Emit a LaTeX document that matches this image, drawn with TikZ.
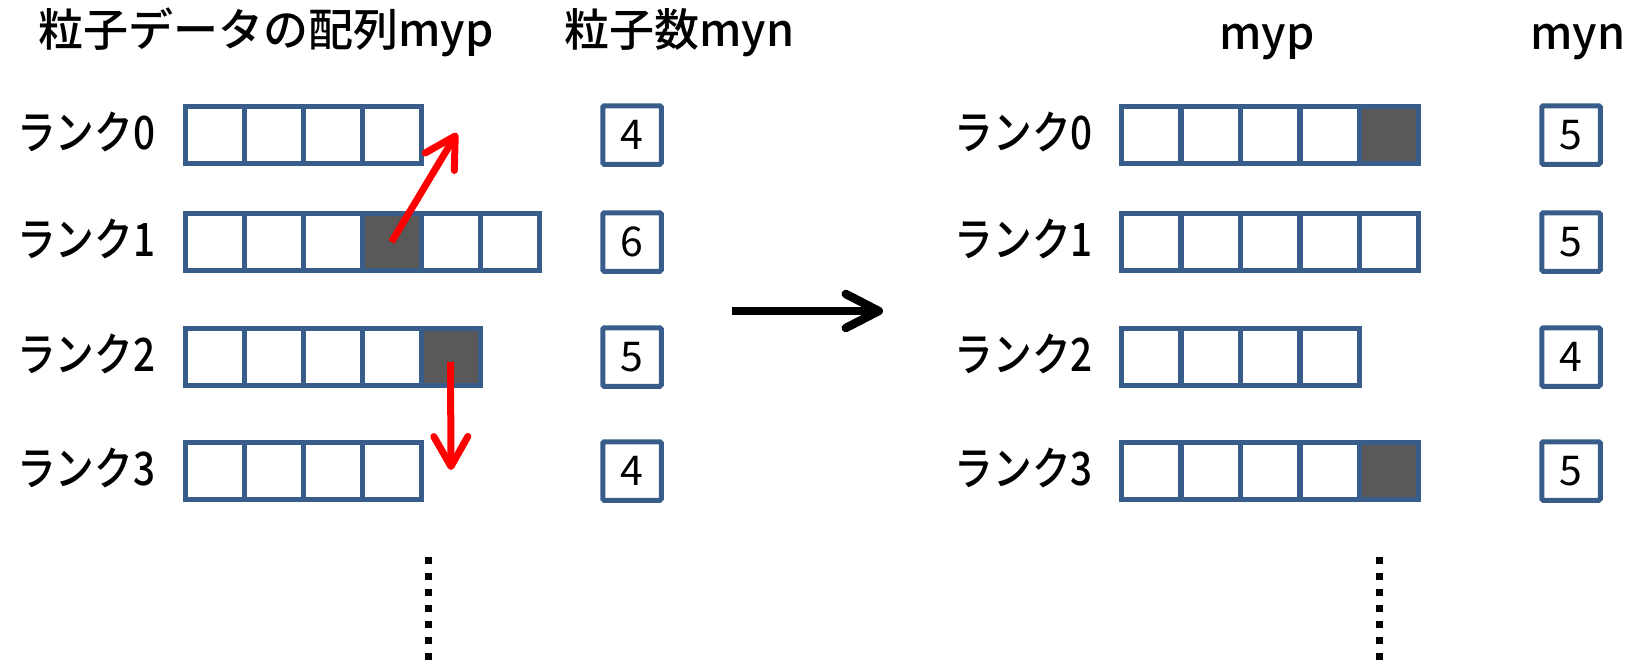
\documentclass[tikz,border=0pt]{standalone}
\usepackage{fontspec}
\setmainfont{Noto Sans CJK JP}
\newfontfamily\headfont[UprightFont={* Medium}]{Noto Sans CJK JP}
\newfontfamily\rankfont[UprightFont={* Medium}, FakeStretch=0.84]{Noto Sans CJK JP}
\usetikzlibrary{arrows.meta, positioning}
\definecolor{cellblue}{HTML}{385D8A}
\definecolor{filled}{HTML}{595959}

\begin{document}
\begin{tikzpicture}[
    x=1pt, y=-1pt, % one unit per pixel, y pointing down
    cell/.style={draw=cellblue, line width=5pt, minimum width=59pt, minimum height=57pt, inner sep=0pt},
    count/.style={draw=cellblue, line width=5pt, minimum size=58.5pt, inner sep=0pt, rounded corners=1.5pt, font=\fontsize{41}{44}\selectfont},
    rank/.style={inner sep=0pt, font=\rankfont\fontsize{46}{50}\selectfont},
    heading/.style={anchor=base west, inner sep=0pt, font=\headfont\fontsize{45}{50}\selectfont},
    move/.style={red, line width=7pt, -{Straight Barb[round, length=30pt, width=34pt]}},
    nextstep/.style={black, line width=8.5pt, -{Straight Barb[round, length=33pt, width=34pt]}},
    more/.style={line width=7.5pt, dash pattern=on 7pt off 9pt}
  ]

  \useasboundingbox (0,0) rectangle (1631,661);

  % --- HEADINGS ---
  \node[heading] (ttl) at (38,47) {粒子データの配列myp};
  \node[heading] (cnt) at (564,47) {粒子数myn};
  \node[heading] (myp) at (1219,50) {myp};
  \node[heading] (myn) at (1530,50) {myn};

  % --- BEFORE: rank / y / cells / moved cell / count ---
  \foreach \r/\y/\n/\g in {0/135/4/0, 1/242/6/4, 2/357/5/5, 3/471/4/0} {
    \foreach \i in {1,...,\n} {
      \ifnum\i=\g\relax\def\col{filled}\else\def\col{white}\fi
      \node[cell, fill=\col] (a\r-\i) at ({185+59*(\i-0.5)},\y) {};
    }
    \node[rank, left=27pt of a\r-1, yshift=3pt] (r\r) {ランク\r};
    \node[count] (n\r) at (632,\y) {\n};
  }

  % --- AFTER ---
  \foreach \r/\y/\n/\g in {0/135/5/5, 1/242/5/0, 2/357/4/0, 3/471/5/5} {
    \foreach \i in {1,...,\n} {
      \ifnum\i=\g\relax\def\col{filled}\else\def\col{white}\fi
      \node[cell, fill=\col] (b\r-\i) at ({1121.3+59.5*(\i-0.5)},\y) {};
    }
    \node[rank, left=26pt of b\r-1, yshift=3pt] (s\r) {ランク\r};
    \node[count] (m\r) at (1571,\y) {\n};
  }

  % --- PARTICLES LEAVING ---
  \coordinate (up) at (457,133);
  \coordinate (down) at (451,470);
  \draw[move] (a1-4.center) -- (up);
  \draw[move] ([yshift=-5pt]a2-5.center) -- (down);

  % --- STEP ---
  \coordinate (from) at (732,311);
  \coordinate (to) at (883,311);
  \draw[nextstep] (from) -- (to);

  % --- FURTHER RANKS ---
  \coordinate (d0) at (428.6,557);
  \coordinate (d1) at (428.6,661);
  \coordinate (e0) at (1379.5,557);
  \coordinate (e1) at (1379.5,661);
  \draw[more] (d0) -- (d1);
  \draw[more] (e0) -- (e1);

\end{tikzpicture}
\end{document}
